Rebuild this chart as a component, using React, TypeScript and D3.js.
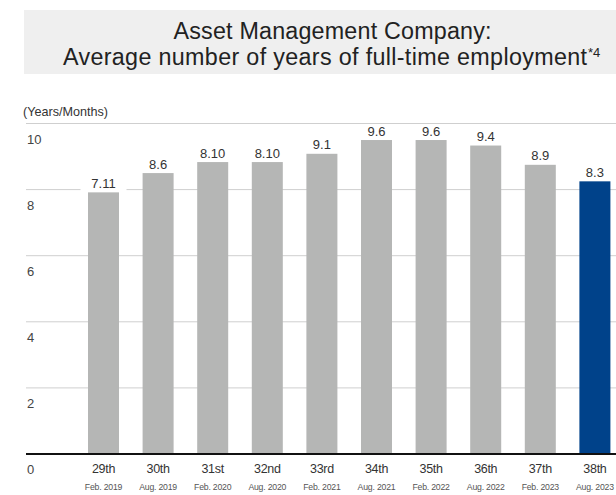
import React from "react";
import * as d3 from "d3";

const categories = ["29th", "30th", "31st", "32nd", "33rd", "34th", "35th", "36th", "37th", "38th"];
const periods = ["Feb. 2019", "Aug. 2019", "Feb. 2020", "Aug. 2020", "Feb. 2021", "Aug. 2021", "Feb. 2022", "Aug. 2022", "Feb. 2023", "Aug. 2023"];
// years.months
const labels = ["7.11", "8.6", "8.10", "8.10", "9.1", "9.6", "9.6", "9.4", "8.9", "8.3"];
const years = [7, 8, 8, 8, 9, 9, 9, 9, 8, 8];
const months = [11, 6, 10, 10, 1, 6, 6, 4, 9, 3];
const yTicks = [0, 2, 4, 6, 8, 10];

const W = 616;
const H = 495;
const FONT = "'Liberation Sans', Arial, Helvetica, sans-serif";

export default function App() {
  const y = d3.scaleLinear().domain([0, 10]).range([454, 123.5]);
  const x = d3
    .scaleBand<string>()
    .domain(categories)
    .range([76.2, 622.2])
    .paddingInner(0.432)
    .paddingOuter(0.216);
  const bw = x.bandwidth();

  return (
    <svg
      width={W}
      height={H}
      style={{ position: "absolute", left: 0, top: 0, background: "#fff" }}
      fontFamily={FONT}
    >
      <rect x={24} y={10} width={W - 24} height={64} fill="#efefef" />
      <text x={173.5} y={38.5} fontSize={23.3} fill="#222" textLength={318} lengthAdjust="spacing">
        Asset Management Company:
      </text>
      <text x={63} y={65} fontSize={23.3} fill="#222">
        <tspan textLength={524} lengthAdjust="spacing">
          Average number of years of full-time employment
        </tspan>
        <tspan x={588} dy={-8} fontSize={13}>*4</tspan>
      </text>

      <text x={23} y={116} fontSize={13} fill="#333" textLength={85} lengthAdjust="spacingAndGlyphs">
        (Years/Months)
      </text>

      {yTicks.map((t) =>
        t === 0 ? null : (
          <line key={t} x1={26} x2={W} y1={y(t)} y2={y(t)} stroke="#cfcfcf" strokeWidth={1} />
        )
      )}
      {yTicks.map((t) => (
        <text key={"l" + t} x={27} y={y(t) + 20} fontSize={13} fill="#444">
          {t}
        </text>
      ))}

      {categories.map((c, i) => {
        const v = years[i] + months[i] / 12;
        const cx = (x(c) as number) + bw / 2;
        const top = y(v);
        return (
          <g key={c}>
            <rect x={cx - 23} y={top - 15} width={46} height={13.5} fill="#fff" />
            <rect
              x={x(c)}
              y={top}
              width={bw}
              height={y(0) - top}
              fill={i === categories.length - 1 ? "#00428a" : "#b5b6b5"}
            />
            <text x={cx} y={top - 4.5} textAnchor="middle" fontSize={13} fill="#333">
              {labels[i]}
            </text>
            <text x={cx} y={473} textAnchor="middle" fontSize={12.5} fill="#333" letterSpacing={-0.3}>
              {c}
            </text>
            <text x={cx} y={490} textAnchor="middle" fontSize={8.7} fill="#555" letterSpacing={-0.2}>
              {periods[i]}
            </text>
          </g>
        );
      })}

      <line x1={26} x2={W} y1={y(0)} y2={y(0)} stroke="#111" strokeWidth={2} />
    </svg>
  );
}
